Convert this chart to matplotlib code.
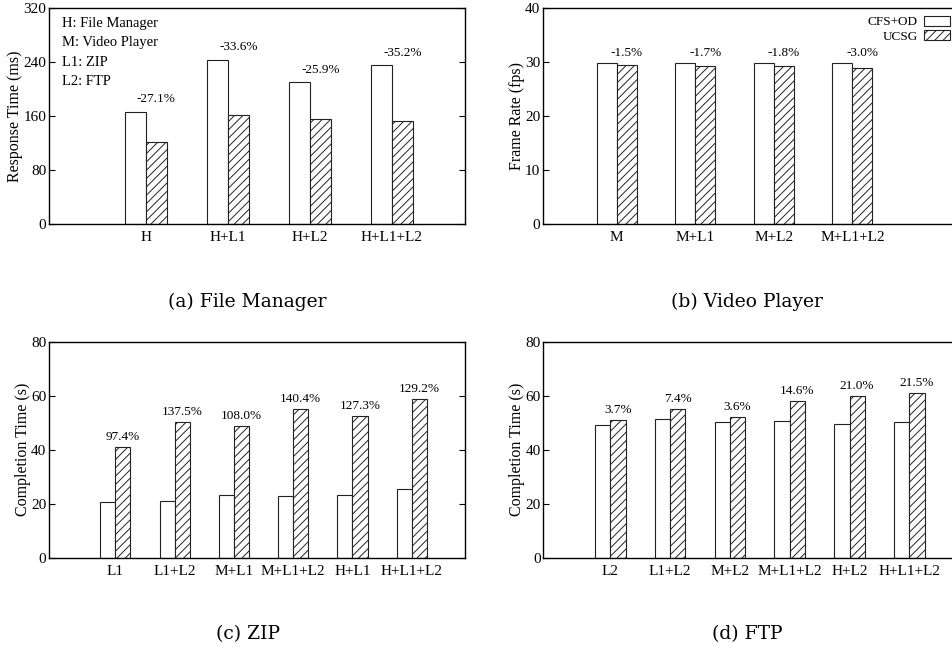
import matplotlib
matplotlib.use("Agg")
import matplotlib.pyplot as plt
import numpy as np

plt.rcParams["font.family"] = ["Liberation Serif", "DejaVu Serif"]
plt.rcParams["hatch.linewidth"] = 0.7
plt.rcParams["axes.linewidth"] = 1.0

# (a) File Manager response time
fm_cats = ["H", "H+L1", "H+L2", "H+L1+L2"]
fm_cfs = [166, 243.5, 210, 235]
fm_ucsg = [121, 162, 155.5, 152.3]
fm_pct = ["-27.1%", "-33.6%", "-25.9%", "-35.2%"]

# (b) Video Player frame rate
vp_cats = ["M", "M+L1", "M+L2", "M+L1+L2"]
vp_cfs = [29.88, 29.85, 29.85, 29.88]
vp_ucsg = [29.43, 29.34, 29.31, 28.98]
vp_pct = ["-1.5%", "-1.7%", "-1.8%", "-3.0%"]

# (c) ZIP completion time
zip_cats = ["L1", "L1+L2", "M+L1", "M+L1+L2", "H+L1", "H+L1+L2"]
zip_cfs = [20.7, 21.1, 23.4, 22.9, 23.05, 25.6]
zip_ucsg = [40.9, 50.1, 48.7, 55.05, 52.4, 58.7]
zip_pct = ["97.4%", "137.5%", "108.0%", "140.4%", "127.3%", "129.2%"]

# (d) FTP completion time
ftp_cats = ["L2", "L1+L2", "M+L2", "M+L1+L2", "H+L2", "H+L1+L2"]
ftp_cfs = [49.1, 51.2, 50.2, 50.5, 49.6, 50.1]
ftp_ucsg = [50.9, 55.0, 52.0, 57.9, 60.0, 60.9]
ftp_pct = ["3.7%", "7.4%", "3.6%", "14.6%", "21.0%", "21.5%"]

W, H = 953, 652
fig = plt.figure(figsize=(W / 100, H / 100), dpi=100)


def px_axes(x0, y0, x1, y1):
    return fig.add_axes([x0 / W, 1 - y1 / H, (x1 - x0) / W, (y1 - y0) / H])


def draw(ax, cats, cfs, ucsg, pct, ymax, yticks, xlim, ylabel, off, right=True):
    x = np.arange(len(cats))
    w = 0.255
    b1 = ax.bar(x - w / 2, cfs, w, color="white", edgecolor="#222222",
                linewidth=0.8, label="CFS+OD", zorder=2)
    b2 = ax.bar(x + w / 2, ucsg, w, color="white", edgecolor="#222222",
                linewidth=0.8, hatch="////", label="UCSG", zorder=2)
    for xi, a, b, t in zip(x, cfs, ucsg, pct):
        ax.annotate(t, (xi + w / 2, max(a, b)), xytext=(0, off),
                    textcoords="offset points", ha="center", va="center",
                    fontsize=9.5)
    ax.set_xlim(*xlim)
    ax.set_ylim(0, ymax)
    ax.set_yticks(yticks)
    ax.set_xticks(x)
    ax.set_xticklabels(cats)
    ax.tick_params(axis="x", length=0, labelsize=11, pad=5)
    ax.tick_params(axis="y", direction="in", length=4, width=0.8,
                   left=True, right=right, labelsize=11, pad=2)
    ax.set_ylabel(ylabel, fontsize=11.5, labelpad=0)
    return b1, b2


ax_a = px_axes(49, 8, 465, 224)
draw(ax_a, fm_cats, fm_cfs, fm_ucsg, fm_pct, 320, [0, 80, 160, 240, 320],
     (-1.18, 3.89), "Response Time (ms)", 9)
for i, t in enumerate(["H: File Manager", "M: Video Player", "L1: ZIP", "L2: FTP"]):
    ax_a.text(0.031, 0.93 - i * 0.09, t, transform=ax_a.transAxes,
              fontsize=10.5, va="center", ha="left")

ax_b = px_axes(543, 8, 956, 224)
h1, h2 = draw(ax_b, vp_cats, vp_cfs, vp_ucsg, vp_pct, 40, [0, 10, 20, 30, 40],
              (-0.94, 4.32), "Frame Rate (fps)", 7.2, right=False)
ax_b.legend(handles=[h1, h2], loc="upper right", markerfirst=False,
            frameon=False, fontsize=9.5, bbox_to_anchor=(1 - 6 / 413, 1 - 8 / 216),
            borderaxespad=0, borderpad=0, handlelength=2.0, handleheight=0.75,
            handletextpad=0.45, labelspacing=0.15)

ax_c = px_axes(49, 341.7, 465, 557.7)
draw(ax_c, zip_cats, zip_cfs, zip_ucsg, zip_pct, 80, [0, 20, 40, 60, 80],
     (-1.12, 5.9), "Completion Time (s)", 7.2)

ax_d = px_axes(543.3, 341.7, 956, 557.7)
draw(ax_d, ftp_cats, ftp_cfs, ftp_ucsg, ftp_pct, 80, [0, 20, 40, 60, 80],
     (-1.12, 5.78), "Completion Time (s)", 7.2, right=False)

cap = dict(fontsize=13.5, family="DejaVu Serif", ha="center", va="center")
fig.text(247 / W, 1 - 302 / H, "(a) File Manager", **cap)
fig.text(747 / W, 1 - 302 / H, "(b) Video Player", **cap)
fig.text(248 / W, 1 - 634 / H, "(c) ZIP", **cap)
fig.text(747 / W, 1 - 634 / H, "(d) FTP", **cap)

fig.savefig("out.png", dpi=100)
